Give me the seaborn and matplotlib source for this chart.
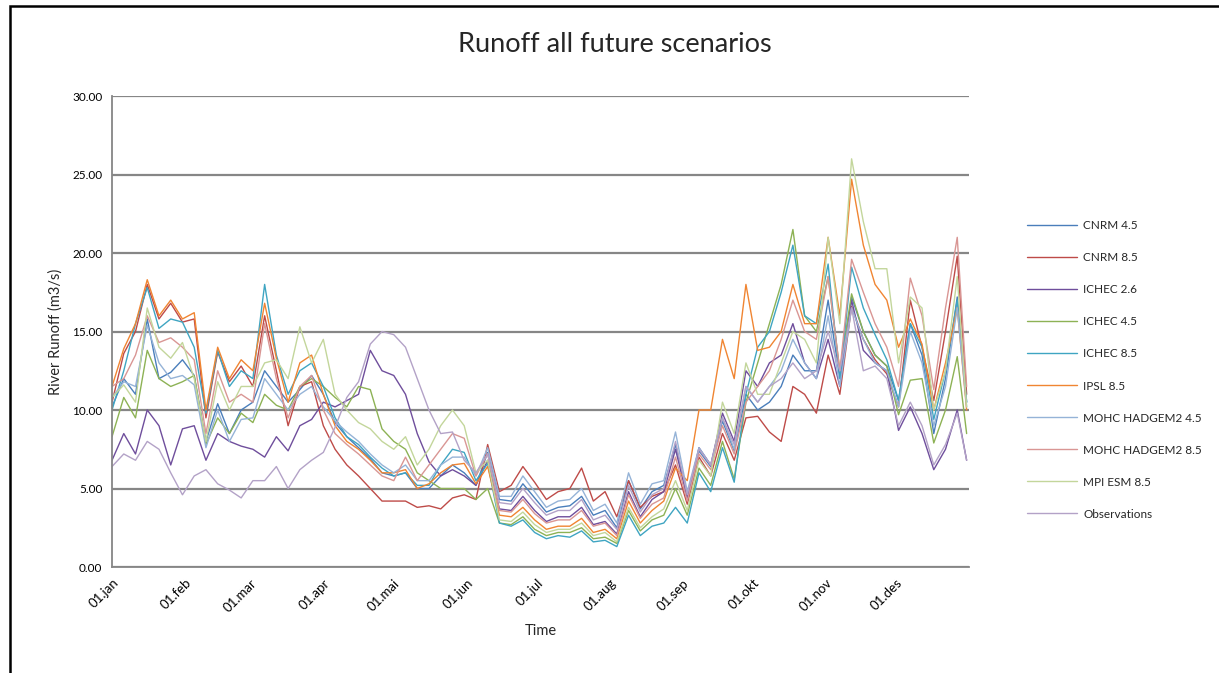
import numpy as np
import pandas as pd
import seaborn as sns
import matplotlib.pyplot as plt
from matplotlib.patches import Rectangle
from matplotlib.ticker import FormatStrFormatter

# day of year (0 = 1 January), values read roughly every 5 days
days = list(range(0, 361, 5)) + [364]

cnrm_45 = [10.2, 12.0, 11.0, 15.8, 12.0, 12.4, 13.2, 12.2, 8.0, 10.4, 8.5, 10.0, 10.5,
           12.5, 11.5, 10.5, 11.3, 12.2, 11.0, 9.2, 8.3, 7.6, 6.9, 6.0, 5.8, 6.0, 5.0,
           5.0, 5.8, 6.5, 6.0, 5.2, 7.3, 4.3, 4.2, 5.3, 4.4, 3.5, 3.8, 3.9, 4.5, 3.3,
           3.6, 2.5, 5.5, 3.7, 4.8, 5.2, 7.8, 4.5, 7.4, 6.4, 9.3, 7.4, 11.0, 10.0, 10.5,
           11.5, 13.5, 12.5, 12.5, 17.0, 12.0, 17.2, 15.0, 13.5, 12.8, 10.6, 15.5, 13.5,
           8.5, 12.0, 17.2, 10.5]
cnrm_85 = [10.5, 13.6, 15.0, 18.0, 15.8, 16.8, 15.6, 15.8, 9.5, 13.7, 11.8, 12.8, 11.5,
           16.0, 12.5, 9.0, 11.5, 11.8, 9.0, 7.5, 6.5, 5.8, 5.0, 4.2, 4.2, 4.2, 3.8,
           3.9, 3.7, 4.4, 4.6, 4.3, 7.8, 4.8, 5.2, 6.4, 5.4, 4.3, 4.8, 5.0, 6.3, 4.2,
           4.8, 3.2, 5.5, 3.8, 4.5, 4.8, 6.5, 4.0, 7.0, 5.8, 8.5, 6.8, 9.5, 9.6, 8.6,
           8.0, 11.5, 11.0, 9.8, 13.5, 11.0, 16.6, 14.5, 13.2, 12.3, 10.2, 17.0, 14.0,
           10.6, 15.0, 19.8, 11.0]
ichec_26 = [6.8, 8.5, 7.2, 10.0, 9.0, 6.5, 8.8, 9.0, 6.8, 8.5, 8.0, 7.7, 7.5,
            7.0, 8.3, 7.4, 9.0, 9.4, 10.5, 10.2, 10.6, 11.0, 13.8, 12.5, 12.2, 11.0, 8.5,
            6.7, 5.8, 6.2, 5.8, 5.2, 6.8, 3.7, 3.6, 4.5, 3.6, 2.9, 3.2, 3.2, 3.8, 2.7,
            2.9, 2.1, 4.8, 3.2, 4.3, 4.8, 7.5, 4.4, 7.6, 6.5, 9.8, 8.0, 12.5, 11.5, 13.0,
            13.5, 15.5, 13.0, 12.0, 14.5, 11.5, 17.0, 13.8, 13.0, 12.5, 8.7, 10.2, 8.5,
            6.2, 7.5, 10.0, 6.8]
ichec_45 = [8.3, 10.8, 9.5, 13.8, 12.0, 11.5, 11.8, 12.2, 7.8, 9.5, 8.5, 9.8, 9.2,
            11.0, 10.3, 10.0, 11.5, 12.0, 11.5, 10.8, 10.2, 11.5, 11.3, 8.8, 8.0, 7.5, 6.0,
            5.5, 5.0, 5.0, 5.0, 4.3, 5.0, 2.8, 2.7, 3.2, 2.4, 2.0, 2.2, 2.2, 2.5, 1.8,
            1.9, 1.5, 3.6, 2.3, 3.0, 3.3, 5.0, 3.3, 6.3, 5.2, 8.0, 5.6, 10.5, 13.0, 15.5,
            18.0, 21.5, 16.0, 15.0, 18.5, 12.5, 17.4, 15.0, 13.5, 12.8, 9.7, 11.9, 12.0,
            7.9, 10.0, 13.4, 8.5]
ichec_85 = [10.0, 12.5, 15.5, 17.8, 15.2, 15.8, 15.6, 14.0, 9.8, 13.8, 11.5, 12.5, 12.0,
            18.0, 13.5, 11.0, 12.5, 13.0, 11.5, 9.5, 8.3, 7.8, 7.0, 6.3, 5.8, 6.0, 5.2,
            5.2, 6.5, 7.5, 7.3, 5.5, 6.6, 2.8, 2.6, 3.0, 2.2, 1.8, 2.0, 1.9, 2.3, 1.6,
            1.7, 1.3, 3.3, 2.0, 2.6, 2.8, 3.8, 2.8, 6.0, 4.8, 7.6, 5.4, 11.0, 14.0, 15.0,
            17.5, 20.5, 16.0, 15.5, 19.3, 12.0, 19.1, 16.5, 14.8, 13.2, 10.6, 15.5, 14.0,
            9.4, 12.5, 17.0, 10.5]
ipsl_85 = [11.5, 13.9, 15.5, 18.3, 16.0, 17.0, 15.8, 16.2, 10.0, 14.0, 12.0, 13.2, 12.5,
           16.8, 13.3, 10.5, 13.0, 13.5, 11.0, 9.0, 8.0, 7.5, 6.8, 6.0, 6.0, 6.2, 5.0,
           5.3, 6.0, 6.5, 6.6, 5.3, 6.4, 3.3, 3.2, 3.8, 3.0, 2.4, 2.6, 2.6, 3.1, 2.2,
           2.4, 1.8, 4.2, 2.8, 3.6, 4.2, 6.3, 5.5, 10.0, 10.0, 14.5, 12.0, 18.0, 13.8, 14.0,
           15.0, 18.0, 15.5, 15.5, 21.0, 16.0, 24.7, 20.5, 18.0, 17.0, 14.0, 15.8, 14.2,
           10.0, 13.0, 16.5, 10.0]
mohc_45 = [10.8, 11.8, 11.5, 15.4, 13.0, 12.0, 12.2, 11.6, 7.6, 10.0, 8.0, 9.4, 9.5,
           12.0, 11.0, 10.0, 11.0, 11.5, 10.2, 9.3, 8.6, 8.0, 7.2, 6.5, 6.0, 6.5, 5.5,
           5.5, 6.5, 7.0, 7.0, 5.8, 7.6, 4.5, 4.5, 5.8, 4.8, 3.8, 4.2, 4.3, 5.0, 3.6,
           4.0, 2.8, 6.0, 4.0, 5.3, 5.5, 8.6, 4.8, 7.6, 6.5, 9.5, 7.5, 11.5, 10.5, 11.5,
           12.5, 14.5, 13.0, 12.0, 16.0, 11.5, 16.5, 14.5, 13.0, 12.5, 10.2, 15.0, 13.0,
           9.0, 11.5, 16.5, 10.2]
mohc_85 = [11.5, 12.0, 13.5, 16.0, 14.3, 14.6, 14.0, 13.2, 8.5, 12.5, 10.5, 11.0, 10.5,
           15.5, 12.0, 9.5, 11.5, 12.2, 10.0, 8.5, 7.8, 7.2, 6.5, 5.8, 5.5, 7.0, 5.5,
           6.5, 7.5, 8.5, 8.2, 5.8, 7.2, 3.6, 3.5, 4.3, 3.4, 2.8, 3.0, 3.0, 3.6, 2.6,
           2.8, 2.0, 4.6, 3.1, 4.0, 4.4, 7.0, 4.2, 7.2, 6.2, 9.0, 7.2, 10.5, 11.5, 12.5,
           14.5, 17.0, 15.0, 14.5, 18.5, 12.5, 19.6, 17.5, 15.5, 14.0, 11.5, 18.4, 16.0,
           11.3, 16.5, 21.0, 11.5]
mpi_85 = [10.8, 11.6, 10.5, 16.5, 14.0, 13.3, 14.3, 12.0, 8.0, 11.8, 10.0, 11.5, 11.5,
          13.0, 13.2, 12.0, 15.3, 13.0, 14.5, 11.0, 10.0, 9.2, 8.8, 8.0, 7.5, 8.3, 6.5,
          7.5, 9.0, 10.0, 9.0, 6.0, 6.8, 3.0, 2.9, 3.5, 2.7, 2.2, 2.4, 2.4, 2.8, 2.0,
          2.2, 1.6, 3.8, 2.5, 3.2, 3.7, 5.5, 3.6, 6.8, 5.8, 10.5, 8.5, 13.0, 11.0, 11.0,
          13.0, 15.0, 14.5, 13.0, 21.0, 15.5, 26.0, 22.0, 19.0, 19.0, 13.0, 17.2, 16.5,
          10.0, 12.5, 18.5, 10.2]
observed = [6.4, 7.2, 6.8, 8.0, 7.5, 6.0, 4.6, 5.8, 6.2, 5.3, 4.9, 4.4, 5.5,
            5.5, 6.4, 5.0, 6.2, 6.8, 7.3, 8.9, 10.8, 11.8, 14.2, 15.0, 14.8, 14.0, 12.0,
            10.0, 8.5, 8.6, 6.8, 6.0, 7.2, 4.1, 4.0, 5.0, 4.1, 3.3, 3.6, 3.6, 4.3, 3.0,
            3.3, 2.4, 5.2, 3.5, 4.6, 5.0, 8.0, 4.6, 7.5, 6.5, 9.5, 7.8, 11.5, 10.5, 11.5,
            12.0, 13.0, 12.0, 12.5, 15.0, 12.5, 16.5, 12.5, 12.8, 12.0, 9.0, 10.5, 9.0,
            6.5, 7.8, 9.8, 6.8]

series_names = ["CNRM 4.5", "CNRM 8.5", "ICHEC 2.6", "ICHEC 4.5", "ICHEC 8.5",
                "IPSL 8.5", "MOHC HADGEM2 4.5", "MOHC HADGEM2 8.5", "MPI ESM 8.5",
                "Observations"]
series_values = [cnrm_45, cnrm_85, ichec_26, ichec_45, ichec_85,
                 ipsl_85, mohc_45, mohc_85, mpi_85, observed]
series_colors = ["#4A7EBB", "#BE4B48", "#6F4E9C", "#8DB255", "#3FA5C2",
                 "#F08532", "#95B3D7", "#D99694", "#C3D69B", "#B3A2C7"]

month_starts = [0, 31, 59, 90, 120, 151, 181, 212, 243, 273, 304, 334, 365]
month_labels = ["01.jan", "01.feb", "01.mar", "01.apr", "01.mai", "01.jun",
                "01.jul", "01.aug", "01.sep", "01.okt", "01.nov", "01.des", ""]

df = pd.DataFrame({"day": days})
for name, vals in zip(series_names, series_values):
    df[name] = vals
df_long = df.melt(id_vars="day", var_name="scenario", value_name="runoff")

sns.set_style("white")
plt.rcParams["font.family"] = ["Lato", "DejaVu Sans"]

grey = "#868686"
fig = plt.figure(figsize=(12.19, 6.73), dpi=100)
ax = fig.add_axes([0.0919, 0.1575, 0.7030, 0.6998])

sns.lineplot(data=df_long, x="day", y="runoff", hue="scenario",
             hue_order=series_names, palette=series_colors,
             linewidth=1.0, ax=ax)

ax.set_xlim(0, 365)
ax.set_ylim(0, 30)
ax.set_yticks(range(0, 31, 5))
ax.yaxis.set_major_formatter(FormatStrFormatter("%.2f"))
ax.set_xticks(month_starts)
ax.set_xticklabels(month_labels, rotation=45, ha="right", rotation_mode="anchor")

ax.yaxis.grid(True, color=grey, linewidth=1.6)
ax.set_axisbelow(True)
for side in ["top", "right"]:
    ax.spines[side].set_visible(False)
for side in ["left", "bottom"]:
    ax.spines[side].set_color(grey)
    ax.spines[side].set_linewidth(1.3)
ax.tick_params(axis="both", direction="out", length=4, width=1.2, color=grey,
               labelsize=8.5, labelcolor="black", pad=3)
ax.tick_params(axis="x", labelsize=9.5)

ax.set_xlabel("Time", fontsize=10.5)
ax.set_ylabel("River Runoff (m3/s)", fontsize=10.5)
ax.xaxis.set_label_coords(0.5, -0.122)
ax.yaxis.set_label_coords(-0.058, 0.5)

handles, labels = ax.get_legend_handles_labels()
ax.legend(handles, labels, loc="center left", bbox_to_anchor=(1016 / 1219, 1 - 370 / 673),
          bbox_transform=fig.transFigure, frameon=False, fontsize=8.5,
          handlelength=4.3, labelspacing=1.78, handletextpad=0.5)

fig.text(615 / 1219, 1 - 45 / 673, "Runoff all future scenarios",
         ha="center", va="center", fontsize=19.5)

# chart frame
fig.add_artist(Rectangle((10 / 1219, -0.1), 1.5, (673 - 6) / 673 + 0.1,
                         transform=fig.transFigure, fill=False,
                         edgecolor="black", linewidth=1.8))

fig.savefig("out.png", dpi=100)
